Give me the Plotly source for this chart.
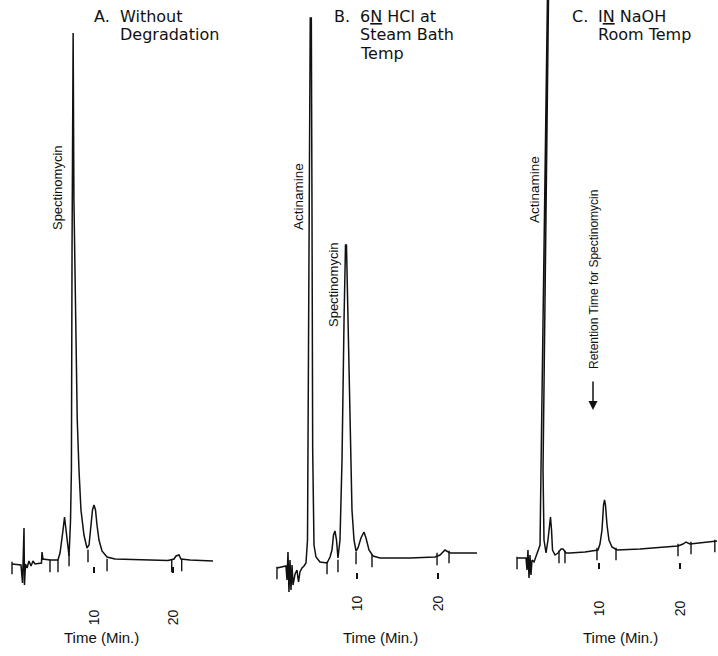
import plotly.graph_objects as go

# ---------------- data (time in min, detector response in arbitrary units) ----------------
# Panel A: Without Degradation
time_a = [-0.38, 0.76, 0.95, 1.01, 1.14, 1.20, 1.33, 1.52, 1.77, 2.03,
          2.28, 2.53, 3.16, 3.35, 3.42, 3.54, 4.43, 5.44, 5.70, 5.82,
          5.95, 6.08, 6.27, 6.46, 6.65, 6.84, 7.03, 7.14, 7.22, 7.28,
          7.36, 7.46, 7.67, 7.88, 8.10, 8.35, 8.73, 9.11, 9.37, 9.62,
          9.81, 10.00, 10.19, 10.38, 10.63, 11.01, 11.65, 12.66, 15.82, 19.37,
          20.13, 20.38, 20.76, 21.01, 22.15, 25.06]
resp_a = [-4, -5, -23, -6, 32, -25, -4, -8, -1, -6,
          -1, -4, -3, -3, 8, 1, 0, 0, 7, 14,
          17, 30, 43, 30, 12, 4, 40, 90, 310, 527,
          527, 360, 230, 140, 90, 50, 25, 12, 15, 32,
          50, 55, 50, 35, 20, 9, 3, 1, 0, -0.5,
          1, 4, 5, 1, 0, -1]

# Panel B: 6N HCl at steam bath temp
time_b = [0.12, 1.23, 1.36, 1.48, 1.60, 1.73, 1.85, 1.98, 2.10, 2.35,
          2.59, 2.78, 2.96, 3.21, 3.46, 3.70, 3.89, 4.01, 4.14, 4.23,
          4.36, 4.44, 4.53, 4.69, 4.94, 5.43, 6.30, 6.67, 6.91, 7.10,
          7.28, 7.47, 7.65, 7.90, 8.15, 8.40, 8.58, 8.70, 8.89, 9.14,
          9.38, 9.63, 9.88, 10.12, 10.49, 10.86, 11.11, 11.48, 11.98, 12.84,
          16.54, 19.63, 20.25, 20.86, 21.48, 22.72, 24.81]
resp_b = [-8, -6, -20, 8, -32, 0, -30, -5, -25, -14,
          -10, -22, -12, -8, -6, -3, 20, 160, 410, 542,
          542, 360, 110, 15, 3, -2, -3, 3, 10, 25,
          29, 20, 2, 20, 100, 240, 315, 315, 230, 120,
          50, 20, 9, 12, 22, 28, 22, 10, 4, 2,
          2, 3, 5, 10, 7, 7, 7]

# Panel C: 1N NaOH room temp
time_c = [-0.12, 0.99, 1.11, 1.23, 1.36, 1.48, 1.60, 1.73, 1.98, 2.22,
          2.47, 2.72, 2.84, 3.27, 3.64, 3.77, 3.48, 3.09, 3.21, 3.46,
          3.70, 3.89, 4.01, 4.14, 4.26, 4.57, 4.94, 5.31, 5.56, 5.93,
          6.42, 8.27, 9.51, 9.88, 10.12, 10.37, 10.56, 10.68, 10.80, 10.99,
          11.23, 11.60, 12.22, 15.06, 18.15, 19.75, 20.37, 20.74, 21.23, 22.47,
          24.57]
resp_c = [2, 2, -10, 10, -18, 5, -15, 0, -2, 4,
          8, 15, 90, 360, 565, 565, 360, 90, 20, 7,
          20, 40, 43, 30, 10, 5, 7, 11, 11, 7,
          7, 8, 9, 10, 16, 30, 55, 60, 55, 35,
          20, 13, 10, 11, 13, 14, 16, 18, 16, 17,
          19]

# integrator event marks (time, response at mark centre)
event_time_a = [-0.38, 4.43, 5.44, 6.84, 9.24, 11.65, 19.84, 21.10]
event_resp_a = [-8, -6, -6, 0, 4, -5, -6, -5]
event_time_b = [0.12, 6.30, 7.65, 9.88, 11.85, 19.88, 21.36]
event_resp_b = [-13, -8, -6, 2, -1, 1, 3]
event_time_c = [-0.12, 5.06, 5.80, 9.75, 12.10, 19.75, 21.36, 24.30]
event_resp_c = [-3, 3, 3, 6, 6, 10, 12, 14]

tick_vals = [10, 20]
tick_text = ["10", "20"]

panel_titles = {
    "A": ["A.", "Without", "Degradation"],
    "B": ["B.", "6<u>N</u> HCl at", "Steam Bath", "Temp"],
    "C": ["C.", "I<u>N</u> NaOH", "Room Temp"],
}

# ---------------- layout helpers ----------------
W, H = 718, 656
Y_RANGE = [-96, 560]


def px(x):
    return x / W


def py(y):
    return 1 - y / H


# per-panel pixel geometry: (left px, right px, px of t=0, px per minute, axis y px, label standoff)
geom = {
    "A": (0, 240, 15, 7.9, 566, 31),
    "B": (240, 478, 276, 8.1, 572, 11),
    "C": (478, 718, 518, 8.1, 562, 26),
}

fig = go.Figure()

series = {
    "A": (time_a, resp_a, event_time_a, event_resp_a),
    "B": (time_b, resp_b, event_time_b, event_resp_b),
    "C": (time_c, resp_c, event_time_c, event_resp_c),
}

layout = dict(
    width=W, height=H, margin=dict(l=0, r=0, t=0, b=0),
    paper_bgcolor="white", plot_bgcolor="white", showlegend=False,
    hovermode=False,
)

for i, key in enumerate(["A", "B", "C"]):
    n = "" if i == 0 else str(i + 1)
    xa, ya = "x" + n, "y" + n
    t, r, et, er = series[key]
    fig.add_trace(go.Scatter(x=t, y=r, xaxis=xa, yaxis=ya, mode="lines",
                             line=dict(color="#111111", width=1.5)))
    fig.add_trace(go.Scatter(x=et, y=er, xaxis=xa, yaxis=ya, mode="markers",
                             marker=dict(symbol="line-ns", size=9,
                                         line=dict(color="#111111", width=1.4))))
    left, right, x0, s, ay_px, stand = geom[key]
    layout["xaxis" + n] = dict(
        domain=[px(left), px(right)],
        range=[(left - x0) / s, (right - x0) / s],
        anchor="free", position=py(ay_px),
        showline=False, showgrid=False, zeroline=False,
        tickvals=tick_vals, ticktext=tick_text, ticks="outside",
        ticklen=6, tickwidth=1.5, tickcolor="#111111",
        tickangle=-90, ticklabelstandoff=stand,
        tickfont=dict(family="Liberation Sans, Arial", size=14, color="#111111"),
        fixedrange=True,
    )
    layout["yaxis" + n] = dict(domain=[0, 1], range=Y_RANGE, anchor=xa,
                               visible=False, fixedrange=True)

annotations = []
title_font = dict(family="DejaVu Sans", size=16, color="#111111")

# panel titles
title_x = {"A": (92, 118), "B": (332, 358), "C": (570, 596)}
line_y = [16, 35, 54]
for key, lines in panel_titles.items():
    lx, tx = title_x[key]
    annotations.append(dict(text=lines[0], x=px(lx), y=py(line_y[0]), xref="paper", yref="paper",
                            xanchor="left", yanchor="middle", showarrow=False, font=title_font))
    for j, ln in enumerate(lines[1:]):
        annotations.append(dict(text=ln, x=px(tx), y=py(line_y[j]), xref="paper", yref="paper",
                                xanchor="left", yanchor="middle", showarrow=False, font=title_font))

# axis captions
for cx in [101, 380, 620]:
    annotations.append(dict(text="Time (Min.)", x=px(cx), y=py(637), xref="paper", yref="paper",
                            xanchor="center", yanchor="middle", showarrow=False,
                            font=dict(family="Liberation Sans, Arial", size=15, color="#111111")))

# peak labels (data coordinates)
peak_labels = [
    ("x", "y", 5.32, 372, "Spectinomycin", 13),
    ("x2", "y2", 2.72, 363, "Actinamine", 13.5),
    ("x2", "y2", 7.04, 275, "Spectinomycin", 13),
    ("x3", "y3", 1.98, 370, "Actinamine", 13.5),
    ("x3", "y3", 9.38, 281, "Retention Time for Spectinomycin", 12),
]
for xr, yr, xv, yv, txt, fs in peak_labels:
    annotations.append(dict(text=txt, x=xv, y=yv, xref=xr, yref=yr, textangle=-90,
                            xanchor="center", yanchor="middle", showarrow=False,
                            font=dict(family="Liberation Sans, Arial", size=fs, color="#111111")))

# retention-time arrow in panel C
annotations.append(dict(text="", x=9.26, y=150, xref="x3", yref="y3", ax=0, ay=-30,
                        showarrow=True, arrowhead=2, arrowsize=1.2, arrowwidth=1.5,
                        arrowcolor="#111111"))

layout["annotations"] = annotations
fig.update_layout(**layout)
fig.write_html("out.html")
